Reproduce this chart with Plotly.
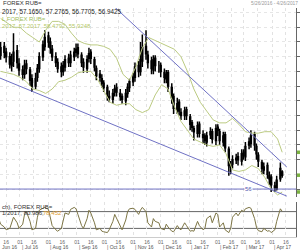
import plotly.graph_objects as go
import pandas as pd

# ---------------- data ----------------
bar_start = "2016-06-08"   # bars every 2nd business day
close = [65.2, 65.6, 65.3, 65.0, 64.5, 64.6, 65.3, 64.6, 64.1, 63.8,
         64.4, 64.2, 63.4, 63.0, 63.5, 64.2, 65.0, 65.8, 66.3, 66.0,
         65.6, 65.0, 64.6, 64.2, 64.0, 64.4, 64.8, 64.6, 65.1, 65.3,
         65.5, 65.2, 64.6, 64.3, 64.8, 65.2, 64.9, 64.3, 63.7, 63.6,
         63.2, 62.9, 62.4, 62.2, 62.5, 62.8, 62.6, 62.3, 62.1, 62.5,
         62.9, 63.3, 63.6, 64.3, 64.0, 64.8, 65.6, 65.2, 64.6, 64.2,
         64.8, 64.4, 64.3, 64.0, 63.6, 63.8, 63.0, 62.2, 61.5, 61.8,
         61.3, 61.0, 61.3, 61.0, 60.4, 60.2, 59.9, 60.3, 59.8, 59.5,
         59.3, 59.6, 59.9, 59.4, 60.1, 60.0, 59.3, 59.6, 58.8, 57.6,
         57.6, 58.0, 58.1, 58.0, 58.4, 58.3, 58.9, 59.2, 59.6, 59.0,
         58.4, 57.9, 57.4, 57.5, 57.0, 56.7, 56.3, 56.1, 56.6, 57.4,
         56.9425]
open_ = [65.0, 65.1, 65.7, 65.3, 65.0, 64.4, 64.7, 65.4, 64.5, 64.1,
         63.8, 64.5, 64.1, 63.5, 63.0, 63.6, 64.2, 65.0, 65.7, 66.4,
         66.0, 65.5, 65.0, 64.6, 64.3, 64.0, 64.3, 64.9, 64.6, 65.0,
         65.3, 65.6, 65.1, 64.6, 64.2, 64.9, 65.3, 64.8, 64.2, 63.8,
         63.5, 63.2, 62.9, 62.3, 62.1, 62.6, 62.9, 62.5, 62.3, 62.0,
         62.5, 62.9, 63.3, 63.6, 64.4, 64.0, 64.7, 65.7, 65.1, 64.7,
         64.1, 64.9, 64.3, 64.4, 63.9, 63.5, 63.9, 62.9, 62.3, 61.4,
         61.9, 61.2, 61.0, 61.4, 60.9, 60.5, 60.1, 59.8, 60.4, 59.7,
         59.6, 59.2, 59.7, 59.9, 59.3, 60.2, 59.9, 59.2, 59.7, 58.7,
         57.5, 57.7, 58.0, 58.2, 57.9, 58.5, 58.2, 59.0, 59.1, 59.7,
         58.9, 58.3, 57.8, 57.3, 57.6, 56.9, 56.8, 56.2, 56.0, 56.7,
         57.165]
high = [65.6, 66.0, 66.0, 65.6, 65.3, 65.2, 66.6, 65.8, 64.9, 64.4,
        64.8, 64.8, 64.3, 63.8, 63.9, 64.5, 65.3, 66.1, 66.8, 66.7,
        66.3, 65.8, 65.3, 64.9, 64.6, 64.7, 65.1, 65.2, 65.4, 65.6,
        65.9, 65.9, 65.3, 64.9, 65.1, 65.6, 65.5, 65.0, 64.4, 64.1,
        63.8, 63.4, 63.1, 62.7, 62.8, 63.1, 63.2, 62.8, 62.5, 62.8,
        63.2, 63.5, 63.9, 64.6, 64.7, 66.0, 66.5, 66.8, 65.4, 65.0,
        65.1, 65.1, 64.7, 64.6, 64.2, 64.1, 64.1, 63.2, 62.5, 62.2,
        62.1, 61.5, 61.6, 61.6, 61.1, 60.7, 60.3, 60.6, 60.6, 60.0,
        59.8, 59.9, 60.2, 60.1, 60.4, 60.4, 60.1, 59.9, 59.9, 58.9,
        57.9, 58.3, 58.4, 58.5, 58.7, 58.7, 59.2, 59.5, 60.0, 59.9,
        59.1, 58.5, 58.0, 57.8, 57.8, 57.2, 57.0, 56.5, 56.9, 57.8,
        57.2765]
low = [64.7, 64.8, 64.9, 64.6, 64.2, 64.0, 64.3, 64.2, 63.7, 63.4,
       63.5, 63.8, 63.0, 62.6, 62.8, 63.3, 63.9, 64.7, 65.4, 65.6,
       65.2, 64.7, 64.3, 63.9, 63.6, 63.7, 64.0, 64.3, 64.3, 64.7,
       65.0, 64.9, 64.3, 63.9, 63.9, 64.6, 64.5, 64.0, 63.4, 63.3,
       62.9, 62.6, 62.0, 61.9, 61.8, 62.3, 62.3, 62.0, 61.8, 61.7,
       62.2, 62.6, 63.0, 63.3, 63.6, 63.7, 64.3, 64.8, 64.2, 63.8,
       63.8, 64.0, 63.9, 63.6, 63.2, 63.2, 62.6, 61.8, 61.1, 61.1,
       61.0, 60.7, 60.7, 60.7, 60.0, 59.9, 59.3, 59.5, 59.5, 59.1,
       59.0, 58.9, 59.4, 59.1, 59.0, 59.6, 59.0, 58.9, 58.5, 56.9,
       57.0, 57.4, 57.7, 57.6, 57.6, 58.0, 57.9, 58.7, 58.8, 58.6,
       58.0, 57.5, 57.0, 57.0, 56.7, 56.3, 55.8, 55.8, 55.9, 56.5,
       56.7705]

# Bollinger bands read at weekly points
band_first_friday = "2016-06-10"
band_last_friday = "2017-04-07"
band_last_day = "2017-04-12"
boll_upper = [67.6, 67.3, 67.0, 67.0, 66.6, 66.3, 66.0, 66.8, 67.4, 67.4,
              67.2, 66.6, 66.1, 65.9, 65.8, 65.8, 65.7, 65.5, 64.9, 63.8,
              63.4, 64.3, 65.6, 66.3, 66.1, 65.9, 65.7, 65.5, 65.0, 64.0,
              62.8, 61.9, 61.3, 60.7, 60.5, 60.5, 60.8, 60.4, 59.9, 59.8,
              59.8, 59.9, 59.9, 59.4, 58.5]
boll_lower = [64.0, 63.9, 63.8, 63.6, 63.3, 62.8, 62.7, 62.5, 62.8, 63.3,
              63.4, 63.6, 63.9, 64.0, 64.0, 63.5, 62.7, 61.9, 61.7, 61.8,
              61.8, 61.4, 61.2, 61.4, 62.4, 63.1, 62.8, 61.6, 60.6, 60.0,
              59.4, 59.2, 59.0, 58.9, 59.0, 58.4, 57.3, 57.2, 57.3, 57.6,
              57.4, 56.8, 56.0, 55.6, 55.8]

# Stochastic oscillator (one value per bar)
stoch = [55, 35, 25, 15, 20, 45, 60, 40, 20, 35,
         70, 80, 45, 15, 20, 60, 85, 92, 95, 88,
         60, 30, 15, 10, 20, 45, 75, 70, 88, 95,
         90, 70, 30, 20, 55, 85, 75, 40, 15, 20,
         10, 8, 5, 15, 45, 70, 55, 25, 15, 50,
         80, 90, 92, 88, 70, 85, 95, 80, 40, 25,
         55, 45, 40, 20, 15, 35, 25, 10, 8, 30,
         20, 15, 40, 30, 10, 12, 10, 45, 30, 15,
         20, 55, 65, 40, 75, 70, 25, 40, 15, 5,
         20, 60, 75, 65, 85, 80, 90, 95, 92, 55,
         25, 12, 8, 20, 10, 12, 5, 15, 45, 90, 81]
stoch_levels = [20, 80]

# trendlines and support
trend_upper_x = ["2016-09-26", "2017-04-17"]
trend_upper_y = [69.3, 57.5]
trend_lower_x = ["2016-06-01", "2017-04-17"]
trend_lower_y = [63.76, 55.52]
support_level = 56
support_label_date = "2017-03-06"

# axis labels
months = ["2016-06", "2016-07", "2016-08", "2016-09", "2016-10", "2016-11",
          "2016-12", "2017-01", "2017-02", "2017-03", "2017-04"]
month_labels = ["Jun 16", "Jul 16", "Aug 16", "Sep 16", "Oct 16", "Nov 16",
                "Dec 16", "Jan 17", "Feb 17", "Mar 17", "Apr 17"]
day_ticks = ["01", "16"]

head_price_1 = "FOREX RUB="
head_price_2 = "2017, 57.1650, 57.2765, 56.7705, 56.9425"
head_boll_1 = "L FOREX RUB="
head_boll_2 = "2017, 57.2017, 58.4792, 55.9248"
head_range = "5/26/2016 - 4/26/2017"
head_stoch_1 = "ch), FOREX RUB="
head_stoch_2 = "1/2017, 80.986,"
head_stoch_3 = "78.452"

# ---------------- figure ----------------
W, H = 300, 250
def py(px):
    return 1 - px / H

bar_dates = pd.bdate_range(bar_start, periods=2 * len(close))[::2]
band_dates = list(pd.date_range(band_first_friday, band_last_friday, freq="W-FRI")) + [pd.Timestamp(band_last_day)]

FONT = "Liberation Sans"
BOLL_C = "#bccb82"
TREND_C = "#6f71c4"

fig = go.Figure()

fig.add_trace(go.Scatter(x=band_dates, y=boll_upper, mode="lines",
                         line=dict(color=BOLL_C, width=1), xaxis="x", yaxis="y"))
fig.add_trace(go.Scatter(x=band_dates, y=boll_lower, mode="lines",
                         line=dict(color=BOLL_C, width=1), xaxis="x", yaxis="y"))
fig.add_trace(go.Scatter(x=trend_upper_x, y=trend_upper_y, mode="lines",
                         line=dict(color=TREND_C, width=1), xaxis="x", yaxis="y"))
fig.add_trace(go.Scatter(x=trend_lower_x, y=trend_lower_y, mode="lines",
                         line=dict(color=TREND_C, width=1), xaxis="x", yaxis="y"))
fig.add_trace(go.Candlestick(x=bar_dates, open=open_, high=high, low=low, close=close,
                             increasing=dict(line=dict(color="black", width=1.5), fillcolor="black"),
                             decreasing=dict(line=dict(color="black", width=1.5), fillcolor="black"),
                             whiskerwidth=0, xaxis="x", yaxis="y"))
fig.add_trace(go.Scatter(x=bar_dates, y=stoch, mode="lines",
                         line=dict(color="#7d7545", width=1), xaxis="x2", yaxis="y2"))

# grid tick positions (1st and 16th of each month)
grid_vals = []
grid_text = []
for m in months:
    for d in day_ticks:
        grid_vals.append(f"{m}-{d}")
        grid_text.append(d)

xr = ["2016-06-09 08:00", "2017-04-27"]
x_dom = [0, 296 / W]

fig.update_layout(
    width=W, height=H, margin=dict(l=0, r=0, t=0, b=0),
    paper_bgcolor="white", plot_bgcolor="white",
    showlegend=False, hovermode=False,
    font=dict(family=FONT, size=5, color="#555"),
    xaxis=dict(domain=x_dom, range=xr, anchor="y", rangeslider=dict(visible=False),
               tickvals=grid_vals, showticklabels=False, ticks="",
               showgrid=True, gridcolor="#e2e2e2", griddash="dot", gridwidth=1,
               zeroline=False, showline=False),
    yaxis=dict(domain=[py(197), py(8)], range=[55.46, 68.31], anchor="x", side="right",
               dtick=1, tick0=0, showticklabels=False, ticks="outside", ticklen=3,
               tickcolor="#666", showline=True, linecolor="#666", linewidth=1,
               showgrid=True, gridcolor="#e6e6e6", griddash="dot", zeroline=False),
    xaxis2=dict(domain=x_dom, range=xr, anchor="y2", matches="x",
                tickvals=grid_vals, ticktext=grid_text, ticks="",
                tickfont=dict(size=5, color="#666", family=FONT),
                showgrid=True, gridcolor="#e2e2e2", griddash="dot",
                showline=True, linecolor="#cccccc", zeroline=False),
    yaxis2=dict(domain=[py(237), py(202)], range=[-10.7, 114.3], anchor="x2", side="right",
                showticklabels=False, ticks="", showgrid=False, zeroline=False,
                showline=True, linecolor="#666", linewidth=1),
)

shapes = []
for lv in stoch_levels:
    shapes.append(dict(type="line", xref="x2 domain", yref="y2", x0=0, x1=1, y0=lv, y1=lv,
                       line=dict(color="#666", width=1), layer="below"))
shapes.append(dict(type="line", xref="x domain", yref="y", x0=0, x1=1,
                   y0=support_level, y1=support_level, line=dict(color=TREND_C, width=1)))
# green tags on the right axis for last band/close values
for v in [boll_upper[-1], close[-1], boll_lower[-1]]:
    shapes.append(dict(type="rect", xref="paper", yref="y", x0=297 / W, x1=1,
                       y0=v - 0.12, y1=v + 0.12, fillcolor="#7cb342", line=dict(width=0)))
fig.update_layout(shapes=shapes)

ann = []
def txt(x, ypx, s, color="#333", size=6, anchor="left"):
    ann.append(dict(x=x, y=py(ypx), xref="paper", yref="paper", text=s, showarrow=False,
                    xanchor=anchor, yanchor="middle", font=dict(size=size, color=color, family=FONT)))

txt(0.004, 3, head_price_1, "#333", 6)
txt(0.0, 11, head_price_2, "#222", 6.3)
txt(0.0, 19, head_boll_1, "#9ebc5a", 6)
txt(0.0, 26, head_boll_2, "#b4c86a", 6)
txt(1.0, 3, head_range, "#999", 4.8, "right")
txt(0.0, 207, head_stoch_1, "#333", 6)
txt(0.0, 213, head_stoch_2, "#333", 6)
txt(41 / W, 213, head_stoch_3, "#e0a030", 6)

ann.append(dict(x=support_label_date, y=support_level, xref="x", yref="y", text=str(support_level),
                showarrow=False, bgcolor="white", font=dict(size=6, color="#5558b0", family=FONT),
                borderpad=0))

# month labels
for m, lab in zip(months, month_labels):
    if m == months[0]:
        ann.append(dict(x=0, y=py(247), xref="paper", yref="paper", text=lab,
                        showarrow=False, xanchor="left", yanchor="middle",
                        font=dict(size=5, color="#555", family=FONT)))
    else:
        ann.append(dict(x=m + "-01", y=py(247), xref="x2", yref="paper", text="| " + lab,
                        showarrow=False, xanchor="left", yanchor="middle",
                        font=dict(size=5, color="#555", family=FONT)))
fig.update_layout(annotations=ann)

fig.write_html("out.html")
